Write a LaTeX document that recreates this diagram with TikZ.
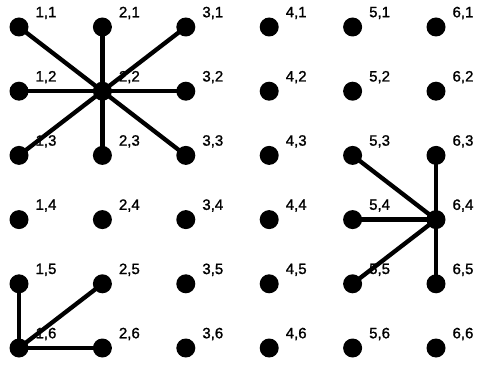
\documentclass[tikz,border=0pt]{standalone}
\usepackage{fontspec}
\setmainfont{Liberation Sans}
\newfontfamily\lblfont[FakeBold=1.2]{Liberation Sans}
\begin{document}
\begin{tikzpicture}[x=1pt,y=1pt,
  dot/.style={circle,fill=black,inner sep=0pt,minimum size=19pt},
  lbl/.style={font=\lblfont\fontsize{15}{15}\selectfont,inner sep=0pt},
  edge/.style={line width=4.3pt}]
\useasboundingbox (0,0) rectangle (478,364);
\foreach \i in {1,...,6}{
  \foreach \j in {1,...,6}{
    \pgfmathsetmacro{\xx}{19+83.4*(\i-1)}
    \pgfmathsetmacro{\yy}{364-27-64.2*(\j-1)}
    \node[dot] (n\i\j) at (\xx,\yy) {};
  }
}
\foreach \a in {11,21,31,12,32,13,23,33}{ \draw[edge] (n22.center) -- (n\a.center); }
\foreach \a in {53,63,54,55,65}{ \draw[edge] (n64.center) -- (n\a.center); }
\foreach \a in {15,25,26}{ \draw[edge] (n16.center) -- (n\a.center); }
\foreach \i in {1,...,6}{
  \foreach \j in {1,...,6}{
    \node[lbl] (t\i\j) at ([shift={(27,14)}]n\i\j.center) {\i,\j};
  }
}
\end{tikzpicture}
\end{document}
